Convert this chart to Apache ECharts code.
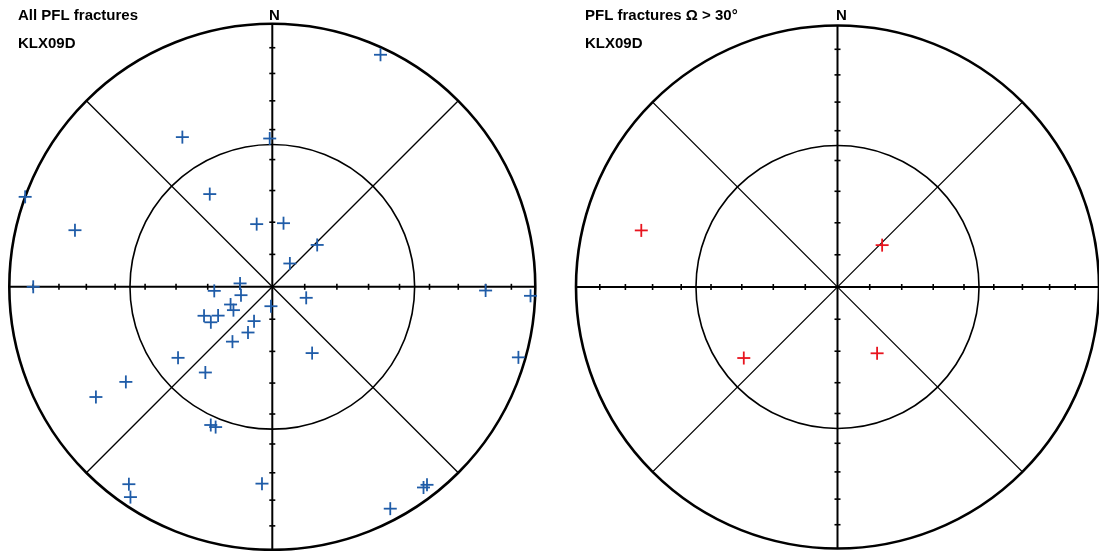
<!DOCTYPE html>
<html><head><meta charset="utf-8">
<script src="https://cdn.jsdelivr.net/npm/echarts@6/dist/echarts.min.js"></script>
<style>html,body{margin:0;padding:0;background:#fff}#c{width:1099px;height:551px}</style>
</head><body><div id="c"></div>
<script>
// Pole trend (azimuth, deg) and plunge (deg) of PFL fractures, KLX09D
const trend  = [25, 329, 359, 290, 326, 286, 346, 10, 47, 37,
                270, 276, 266, 255, 108, 91, 92, 247, 239, 184,
                247, 242, 240, 208, 208, 216, 233, 149, 106, 218,
                237, 238, 204, 202, 183, 216, 214, 143, 142, 152];
const plunge = [3, 34, 43, 0, 55, 23, 70, 70, 71, 81,
                10, 80, 72, 80, 79, 20, 2, 76, 76, 84,
                67, 71, 68, 78, 74, 69, 53, 66, 3, 56,
                34, 22, 42, 42, 26, 8, 4, 5, 5, 5];
// fractures with Ω > 30°
const omegaOver30 = [false,false,false,false,false,true,false,false,true,false,
                     false,false,false,false,false,false,false,false,false,false,
                     false,false,false,false,false,false,true,true,false,false,
                     false,false,false,false,false,false,false,false,false,false];
const tickPlunges = [10, 20, 30, 40, 50, 60, 70, 80];
const innerCirclePlunge = 45;
const titles = ['All PFL fractures', 'PFL fractures \u03A9 > 30\u00B0'];
const boreholeName = 'KLX09D';
const northLabel = 'N';

function eqArea(p) { return Math.SQRT2 * Math.sin((90 - p) / 2 * Math.PI / 180); }
function project(t, p) {
  const r = eqArea(p), a = t * Math.PI / 180;
  return [r * Math.sin(a), r * Math.cos(a)];
}
const allPts = trend.map((t, i) => project(t, plunge[i]));
const steepPts = trend.map((t, i) => omegaOver30[i] ? project(t, plunge[i]) : null).filter(Boolean);

function netRender(params, api) {
  const c = api.coord([0, 0]);
  const R = api.size([1, 1])[0];
  const cx = c[0], cy = c[1];
  const ch = [];
  const line = (x1, y1, x2, y2, w) => ch.push({type: 'line', shape: {x1, y1, x2, y2}, style: {stroke: '#000', lineWidth: w}});
  const d = R * Math.SQRT1_2;
  line(cx - d, cy - d, cx + d, cy + d, 1.3);
  line(cx - d, cy + d, cx + d, cy - d, 1.3);
  line(cx - R, cy, cx + R, cy, 2);
  line(cx, cy - R, cx, cy + R, 2);
  tickPlunges.forEach(p => {
    const r = eqArea(p) * R, t = 3;
    line(cx + r, cy - t, cx + r, cy + t, 1.6);
    line(cx - r, cy - t, cx - r, cy + t, 1.6);
    line(cx - t, cy + r, cx + t, cy + r, 1.6);
    line(cx - t, cy - r, cx + t, cy - r, 1.6);
  });
  ch.push({type: 'circle', shape: {cx, cy, r: eqArea(innerCirclePlunge) * R}, style: {fill: 'none', stroke: '#000', lineWidth: 1.6}});
  ch.push({type: 'circle', shape: {cx, cy, r: R}, style: {fill: 'none', stroke: '#000', lineWidth: 2.6}});
  return {type: 'group', children: ch};
}
function plusRender(color) {
  return function (params, api) {
    const p = api.coord([api.value(0), api.value(1)]);
    const h = 6.5;
    return {type: 'group', children: [
      {type: 'line', shape: {x1: p[0] - h, y1: p[1], x2: p[0] + h, y2: p[1]}, style: {stroke: color, lineWidth: 1.8}},
      {type: 'line', shape: {x1: p[0], y1: p[1] - h, x2: p[0], y2: p[1] + h}, style: {stroke: color, lineWidth: 1.8}}
    ]};
  };
}
const axisCommon = {type: 'value', min: -1, max: 1, show: false};
const chart = echarts.init(document.getElementById('c'), null, {renderer: 'canvas'});
const font = 'bold 15px "Liberation Sans", Arial, sans-serif';
chart.setOption({
  animation: false,
  backgroundColor: '#fff',
  grid: [
    {left: 9.3, top: 23.8, width: 526, height: 526},
    {left: 576, top: 24, width: 526, height: 526}
  ],
  xAxis: [Object.assign({gridIndex: 0}, axisCommon), Object.assign({gridIndex: 1}, axisCommon)],
  yAxis: [Object.assign({gridIndex: 0}, axisCommon), Object.assign({gridIndex: 1}, axisCommon)],
  graphic: [
    {type: 'text', x: 18, y: 15.5, style: {text: titles[0], font, fill: '#000', verticalAlign: 'middle'}},
    {type: 'text', x: 18, y: 43.5, style: {text: boreholeName, font, fill: '#000', verticalAlign: 'middle'}},
    {type: 'text', x: 274.3, y: 15.5, style: {text: northLabel, font, fill: '#000', align: 'center', verticalAlign: 'middle'}},
    {type: 'text', x: 585, y: 15.5, style: {text: titles[1], font, fill: '#000', verticalAlign: 'middle'}},
    {type: 'text', x: 585, y: 43.5, style: {text: boreholeName, font, fill: '#000', verticalAlign: 'middle'}},
    {type: 'text', x: 841.3, y: 15.5, style: {text: northLabel, font, fill: '#000', align: 'center', verticalAlign: 'middle'}}
  ],
  series: [
    {type: 'custom', xAxisIndex: 0, yAxisIndex: 0, data: [[0, 0]], renderItem: netRender, silent: true, z: 1},
    {type: 'custom', xAxisIndex: 1, yAxisIndex: 1, data: [[0, 0]], renderItem: netRender, silent: true, z: 1},
    {type: 'custom', name: 'All PFL fractures', xAxisIndex: 0, yAxisIndex: 0, data: allPts, renderItem: plusRender('#1f5ca8'), z: 2},
    {type: 'custom', name: 'PFL fractures Ω > 30°', xAxisIndex: 1, yAxisIndex: 1, data: steepPts, renderItem: plusRender('#e8141e'), z: 2}
  ]
});
</script>
</body></html>
